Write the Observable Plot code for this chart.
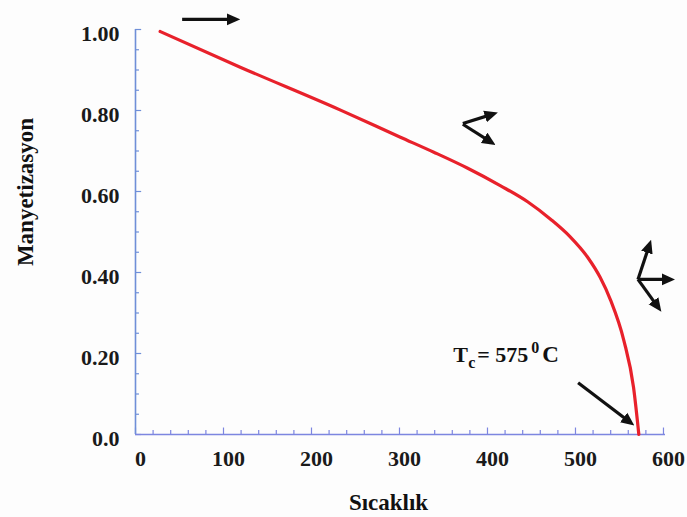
<!DOCTYPE html>
<html>
<head>
<meta charset="utf-8">
<script src="https://cdn.jsdelivr.net/npm/d3@7"></script>
<script src="https://cdn.jsdelivr.net/npm/@observablehq/plot@0.6"></script>
<style>
  html, body { margin: 0; padding: 0; background: #fdfdfd; }
  #chart svg { display: block; }
</style>
</head>
<body>
<div id="chart"></div>
<script>
// ---- data ----
const temperature   = [28, 119, 233, 301, 339, 377, 415, 446, 472, 494, 514, 528, 540, 555, 566, 572];
const magnetization = [0.995, 0.907, 0.801, 0.734, 0.697, 0.658, 0.614, 0.574, 0.531, 0.488, 0.437, 0.388, 0.331, 0.232, 0.116, 0.0];

const xTicks = [0, 100, 200, 300, 400, 500, 600];
const xTickLabels = ["0", "100", "200", "300", "400", "500", "600"];
const yTicks = [1.0, 0.8, 0.6, 0.4, 0.2, 0.0];
const yTickLabels = ["1.00", "0.80", "0.60", "0.40", "0.20", "0.0"];
const xMinor = d3.range(0, 601, 20);
const yMinor = d3.range(0, 1.0001, 0.05).map(v => +v.toFixed(2));

const xTitle = "Sıcaklık";
const yTitle = "Manyetizasyon";

// annotation arrows (data coordinates: temperature, magnetization)
const arrowX1 = [53, 372, 372, 571, 571, 571, 503];
const arrowY1 = [1.025, 0.768, 0.766, 0.383, 0.383, 0.383, 0.128];
const arrowX2 = [113, 406, 404, 584, 607, 594, 562];
const arrowY2 = [1.025, 0.791, 0.722, 0.468, 0.383, 0.314, 0.030];

// Curie temperature label pieces
const tcPieces = ["T", "c", "= 575", "0", "C"];
const tcAnchorX = [361];
const tcAnchorY = [0.178];

const curve = temperature.map((t, i) => ({t, m: magnetization[i]}));
const arrows = arrowX1.map((x1, i) => ({x1, y1: arrowY1[i], x2: arrowX2[i], y2: arrowY2[i]}));

const font = "'Liberation Serif', 'Times New Roman', serif";
const xLabel = new Map(xTicks.map((v, i) => [v, xTickLabels[i]]));
const yLabel = new Map(yTicks.map((v, i) => [v, yTickLabels[i]]));

const pieceStyle = [
  {dx: 0, dy: 0, size: 22},
  {dx: 15, dy: 6, size: 16},
  {dx: 24, dy: 0, size: 22},
  {dx: 78, dy: -9, size: 16},
  {dx: 89, dy: 0, size: 23}
];

const plot = Plot.plot({
  width: 687,
  height: 517,
  marginLeft: 135,
  marginRight: 22,
  marginTop: 29,
  marginBottom: 83,
  style: {background: "transparent", fontFamily: font},
  x: {domain: [0, 602.3]},
  y: {domain: [0, 1]},
  marks: [
    // minor / major ticks (inward)
    Plot.ruleY(yMinor, {x1: 0, x2: d => (Math.round(d * 100) % 20 === 0 ? 7 : 4.5), stroke: "#6f8fd8", strokeWidth: 1.2}),
    Plot.ruleX(xMinor, {y1: 0, y2: d => (d % 100 === 0 ? 0.016 : 0.01), stroke: "#7d86e0", strokeWidth: 1.2}),
    // axis lines
    Plot.ruleX([0], {y1: 0, y2: 1, stroke: "#6f8fd8", strokeWidth: 1.6}),
    Plot.ruleY([0], {x1: 0, x2: 602.3, stroke: "#7d86e0", strokeWidth: 1.6}),
    // tick labels
    Plot.axisX({ticks: xTicks, tickFormat: d => xLabel.get(d), tickSize: 0, tickPadding: 16, fontSize: 22, fontWeight: "bold", fill: "#1a1a1a", label: null, dx: 5}),
    Plot.axisY({ticks: yTicks, tickFormat: d => yLabel.get(d), tickSize: 0, tickPadding: 16, fontSize: 22, fontWeight: "bold", fill: "#1a1a1a", label: null, dy: 4}),
    // axis titles
    Plot.text([xTitle], {frameAnchor: "bottom", dx: -12, dy: 75, fontSize: 23, fontWeight: "bold", fill: "#111", fontFamily: font}),
    Plot.text([yTitle], {frameAnchor: "left", textAnchor: "middle", rotate: -90, dx: -110, dy: -40, fontSize: 23, fontWeight: "bold", fill: "#111", fontFamily: font}),
    // curve
    Plot.line(curve, {x: "t", y: "m", stroke: "#e8212b", strokeWidth: 3.2, curve: "monotone-x"}),
    // arrows (filled heads added below)
    Plot.link(arrows, {x1: "x1", y1: "y1", x2: "x2", y2: "y2", stroke: "#111", strokeWidth: 3.2}),
    // Tc label
    ...tcPieces.map((p, i) => Plot.text([p], {
      x: () => tcAnchorX[0], y: () => tcAnchorY[0],
      textAnchor: "start", lineAnchor: "bottom",
      dx: pieceStyle[i].dx, dy: pieceStyle[i].dy,
      fontSize: pieceStyle[i].size, fontWeight: "bold", fill: "#111", fontFamily: font
    }))
  ]
});

// filled arrowheads for the annotation links
const svg = d3.select(plot);
svg.insert("defs", ":first-child")
  .append("marker")
  .attr("id", "filled-arrow")
  .attr("viewBox", "0 0 10 10")
  .attr("refX", 6)
  .attr("refY", 5)
  .attr("markerWidth", 4.2)
  .attr("markerHeight", 4.2)
  .attr("orient", "auto")
  .append("path")
  .attr("d", "M0,0.5 L10,5 L0,9.5 Z")
  .attr("fill", "#111");
svg.selectAll('g[aria-label="link"] path').attr("marker-end", "url(#filled-arrow)");

document.getElementById("chart").appendChild(plot);
</script>
</body>
</html>
